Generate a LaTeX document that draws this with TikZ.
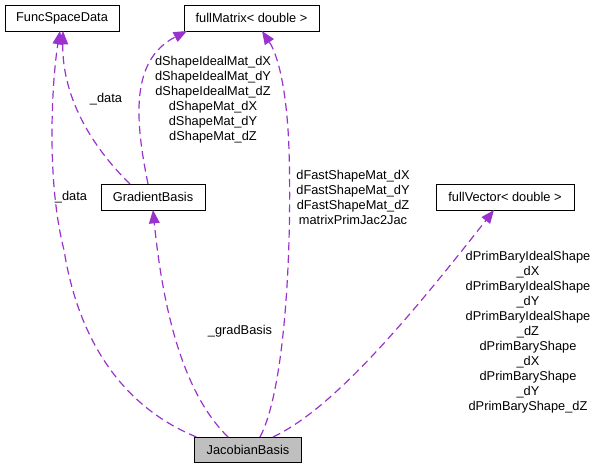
\documentclass[tikz,border=0pt]{standalone}
\usepackage{fontspec}
\setmainfont{Liberation Sans}
\usetikzlibrary{arrows.meta,calc}
\definecolor{edgec}{HTML}{9A32CD}
\definecolor{grey75}{HTML}{BFBFBF}
\begin{document}
\begin{tikzpicture}[x=0.75pt,y=-0.75pt,
  every node/.style={font=\fontsize{9.6}{11.25}\selectfont},
  cls/.style={draw=black,line width=0.75pt,fill=white,inner sep=0pt,outer sep=0pt,minimum height=19.5pt},
  lbl/.style={align=center,inner sep=0pt},
  uses/.style={draw=edgec,line width=0.9pt,dash pattern=on 6pt off 3.5pt,-{Triangle[length=10pt,width=8pt,fill=edgec,sharp]}}]
\useasboundingbox (0,0) rectangle (600,468);
% nodes
\node[cls,minimum width=85.5pt] (fsd) at (62,18) {FuncSpaceData};
\node[cls,minimum width=101.25pt] (fm) at (251.5,18) {fullMatrix< double >};
\node[cls,minimum width=78pt] (gb) at (153,197) {GradientBasis};
\node[cls,minimum width=103.5pt] (fv) at (505,197) {fullVector< double >};
\node[cls,minimum width=80.25pt,minimum height=18.75pt,fill=grey75] (jb) at (248,449.5) {JacobianBasis};
% edges
\draw[uses] ($(jb.north west)+(2,0)$) .. controls (130,410) and (80,350) .. (64,250)
   .. controls (46,180) and (52,80) .. ($(fsd.south)+(-2,0)$);
\draw[uses] ($(gb.north west)+(29,0)$) .. controls (85,140) and (62,90) .. ($(fsd.south)+(1,0)$);
\draw[uses] ($(gb.north west)+(47,0)$) .. controls (135,120) and (130,60) .. ($(fm.south west)+(3,0)$);
\draw[uses] ($(jb.north)+(12,0)$) .. controls (285,390) and (292,250) .. (289,150)
   .. controls (287,90) and (278,55) .. ($(fm.south)+(10.5,0)$);
\draw[uses] ($(jb.north)+(-20,0)$) .. controls (190,400) and (165,330) .. (gb.south);
\draw[uses] ($(jb.north)+(25,0)$) .. controls (330,410) and (400,330) .. ($(fv.south)+(-11,0)$);
% labels
\node[lbl] (l1) at (71,197) {\_data};
\node[lbl] (l2) at (106,99) {\_data};
\node[lbl] (l3) at (213,99.5) {dShapeIdealMat\_dX\\dShapeIdealMat\_dY\\dShapeIdealMat\_dZ\\dShapeMat\_dX\\dShapeMat\_dY\\dShapeMat\_dZ};
\node[lbl] (l4) at (353,197.5) {dFastShapeMat\_dX\\dFastShapeMat\_dY\\dFastShapeMat\_dZ\\matrixPrimJac2Jac};
\node[lbl] (l5) at (240,331) {\_gradBasis};
\node[lbl] (l6) at (528,332) {dPrimBaryIdealShape\\\_dX\\dPrimBaryIdealShape\\\_dY\\dPrimBaryIdealShape\\\_dZ\\dPrimBaryShape\\\_dX\\dPrimBaryShape\\\_dY\\dPrimBaryShape\_dZ};
\end{tikzpicture}
\end{document}
